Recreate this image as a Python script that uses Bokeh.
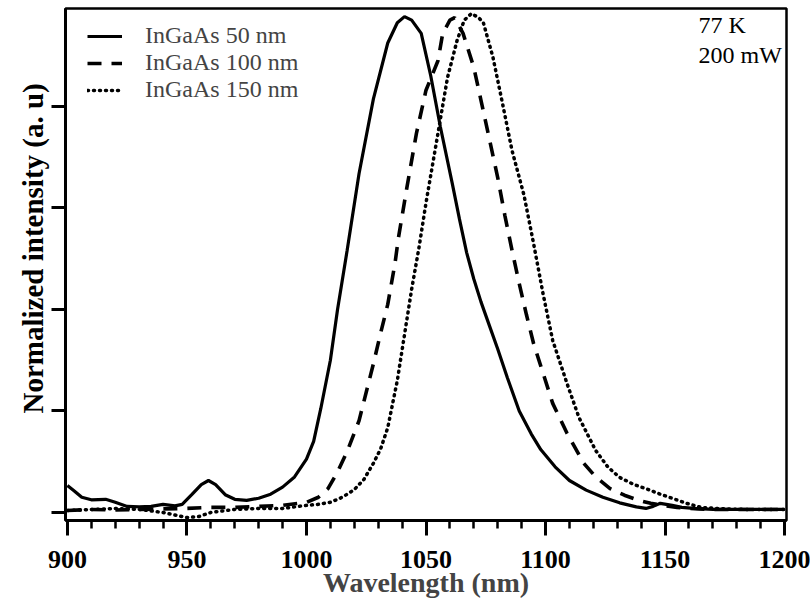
from bokeh.plotting import figure
from bokeh.models import Legend, LegendItem, Label, FixedTicker, CustomJSTickFormatter, Range1d, Title
from bokeh.embed import file_html
from bokeh.resources import INLINE

# ---- data ----
wl_50 = [900, 903, 906, 910, 916, 920, 925, 930, 935, 940, 945, 948, 952, 956, 959, 962, 966, 970,
         975, 980, 985, 990, 995, 1000, 1003, 1006, 1010, 1013, 1017, 1022, 1028, 1034, 1038, 1041,
         1044, 1048, 1052, 1056, 1061, 1064, 1067, 1070, 1073, 1076, 1080, 1084, 1089, 1094, 1098,
         1104, 1110, 1117, 1124, 1131, 1138, 1142, 1145, 1148, 1153, 1157, 1162, 1170, 1180, 1190, 1200]
int_50 = [0.053, 0.042, 0.030, 0.025, 0.026, 0.020, 0.012, 0.011, 0.012, 0.016, 0.013, 0.016, 0.035,
          0.055, 0.063, 0.055, 0.035, 0.026, 0.024, 0.028, 0.036, 0.050, 0.070, 0.105, 0.140, 0.205,
          0.300, 0.400, 0.516, 0.668, 0.815, 0.925, 0.965, 0.977, 0.970, 0.944, 0.860, 0.760, 0.648,
          0.578, 0.512, 0.460, 0.415, 0.375, 0.322, 0.266, 0.200, 0.155, 0.124, 0.090, 0.063, 0.044,
          0.030, 0.019, 0.011, 0.008, 0.012, 0.018, 0.014, 0.010, 0.008, 0.006, 0.006, 0.006, 0.006]

wl_100 = [900, 910, 920, 930, 940, 950, 960, 970, 980, 990, 1000, 1005, 1009, 1013, 1017, 1022, 1028,
          1031, 1034, 1037, 1038.5, 1042, 1046, 1050, 1055, 1057, 1060, 1062, 1065.5, 1070, 1073, 1076,
          1080, 1083, 1086, 1089, 1092, 1095, 1099, 1103, 1109, 1116, 1121, 1127, 1133, 1139, 1144,
          1149, 1155, 1160, 1170, 1180, 1190, 1200]
int_100 = [0.004, 0.006, 0.005, 0.006, 0.007, 0.008, 0.010, 0.010, 0.012, 0.014, 0.020, 0.030, 0.047,
           0.080, 0.120, 0.181, 0.293, 0.353, 0.410, 0.490, 0.542, 0.640, 0.747, 0.832, 0.890, 0.944,
           0.970, 0.975, 0.944, 0.877, 0.812, 0.747, 0.660, 0.585, 0.516, 0.451, 0.390, 0.333, 0.274,
           0.215, 0.156, 0.097, 0.070, 0.047, 0.034, 0.024, 0.018, 0.014, 0.010, 0.008, 0.006, 0.006,
           0.006, 0.006]

wl_150 = [900, 910, 920, 930, 940, 945, 950, 955, 960, 970, 980, 990, 1000, 1005, 1010, 1015, 1020,
          1024, 1028, 1031, 1034, 1038, 1041, 1044, 1047, 1050, 1055, 1059, 1063, 1066, 1069, 1072,
          1074, 1078, 1082, 1086, 1091, 1095, 1099, 1103, 1109, 1114, 1121, 1126, 1131, 1137, 1142,
          1148, 1153, 1159, 1165, 1175, 1185, 1200]
int_150 = [0.004, 0.006, 0.008, 0.006, 0.000, -0.005, -0.010, -0.008, 0.000, 0.006, 0.008, 0.008,
           0.014, 0.016, 0.020, 0.030, 0.045, 0.065, 0.097, 0.125, 0.167, 0.260, 0.350, 0.440, 0.520,
           0.610, 0.747, 0.857, 0.930, 0.970, 0.983, 0.975, 0.965, 0.897, 0.806, 0.713, 0.625, 0.530,
           0.430, 0.339, 0.254, 0.187, 0.122, 0.090, 0.069, 0.055, 0.047, 0.036, 0.028, 0.018, 0.010,
           0.007, 0.006, 0.006]

series_labels = ["InGaAs 50 nm", "InGaAs 100 nm", "InGaAs 150 nm"]
x_major_ticks = [900, 950, 1000, 1050, 1100, 1150, 1200]
x_minor_ticks = list(range(900, 1201, 10))
y_ticks = [0, 0.2, 0.4, 0.6, 0.8]
annot_lines = ["77 K", "200 mW"]
x_title = "Wavelength (nm)"
y_title = "Normalized intensity (a. u)"

FONT = "Liberation Serif"

p = figure(width=810, height=602, output_backend="svg", toolbar_location=None,
           x_range=Range1d(899.2, 1200.8), y_range=Range1d(-0.0158, 0.993),
           min_border_left=65, min_border_right=24, min_border_top=8, min_border_bottom=82)
p.background_fill_color = "white"
p.border_fill_color = "white"
p.grid.visible = False
p.outline_line_color = "black"
p.outline_line_width = 2.5

r1 = p.line(wl_50, int_50, line_color="black", line_width=3.2)
r2 = p.line(wl_100, int_100, line_color="black", line_width=3.6, line_dash="14 10")
r3 = p.line(wl_150, int_150, line_color="black", line_width=3.5, line_dash="1 5", line_cap="round")

# x axis
xa = p.xaxis[0]
xa.ticker = FixedTicker(ticks=x_major_ticks, minor_ticks=x_minor_ticks)
xa.axis_line_width = 3
xa.major_tick_line_width = 3
xa.minor_tick_line_width = 2.5
xa.major_tick_in = 0
xa.major_tick_out = 15
xa.minor_tick_in = 0
xa.minor_tick_out = 8
xa.major_label_text_font = FONT
xa.major_label_text_font_style = "bold"
xa.major_label_text_font_size = "26px"
xa.major_label_text_color = "black"
xa.major_label_standoff = 15
xa.axis_label = x_title
xa.axis_label_text_font = FONT
xa.axis_label_text_font_style = "bold"
xa.axis_label_text_font_size = "28px"
xa.axis_label_standoff = -4

# y axis
ya = p.yaxis[0]
ya.ticker = FixedTicker(ticks=y_ticks, minor_ticks=[])
ya.formatter = CustomJSTickFormatter(code="return ''")
ya.axis_line_width = 3
ya.major_tick_line_width = 3
ya.major_tick_in = 0
ya.major_tick_out = 14
ya.minor_tick_out = 0
ya.major_label_standoff = 10

# y axis title, placed as in the original (a bit above the frame centre)
p.add_layout(Title(text=y_title, align="left", offset=107, standoff=2, vertical_align="top",
                   text_font=FONT, text_font_style="bold", text_font_size="29px",
                   text_color="black"), "left")

legend = Legend(items=[LegendItem(label=series_labels[0], renderers=[r1]),
                       LegendItem(label=series_labels[1], renderers=[r2]),
                       LegendItem(label=series_labels[2], renderers=[r3])],
                location=(22, 417), margin=0, padding=0, spacing=0,
                glyph_width=35, glyph_height=26, label_height=26, label_standoff=23,
                label_text_font=FONT, label_text_font_size="24px",
                border_line_alpha=0, background_fill_alpha=0)
p.add_layout(legend)

for i, t in enumerate(annot_lines):
    p.add_layout(Label(x=1164, y=0.961 - i * 0.06, text=t, text_font=FONT, text_font_size="24px",
                       text_baseline="middle", text_color="black"))

open("out.html", "w").write(file_html(p, INLINE))
